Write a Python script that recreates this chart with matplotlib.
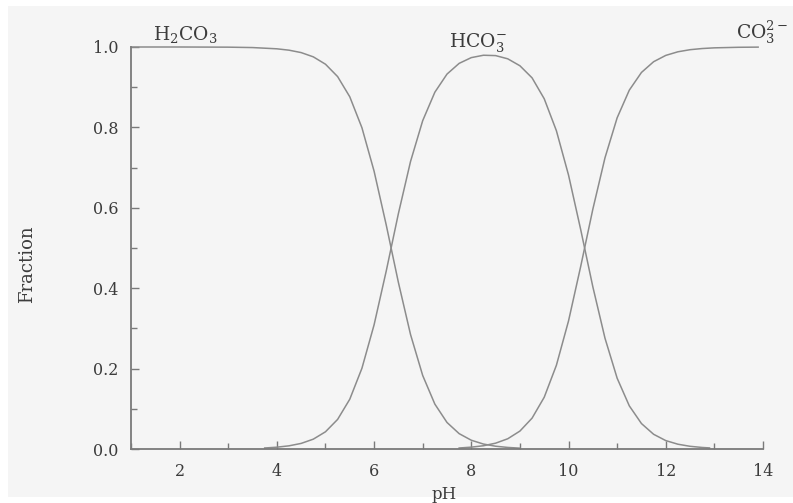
"""Carbonate speciation diagram: fraction of H2CO3, HCO3- and CO3 2- versus pH."""

import matplotlib

matplotlib.use("Agg")

import matplotlib.pyplot as plt
from matplotlib.patches import Rectangle
from matplotlib.ticker import MultipleLocator

plt.rcParams["font.family"] = ["DejaVu Serif"]
plt.rcParams["mathtext.fontset"] = "dejavuserif"

# values
ph_h2co3 = [1.0, 2.0, 3.0, 3.5, 4.0, 4.25, 4.5, 4.75, 5.0, 5.25, 5.5, 5.75,
            6.0, 6.25, 6.5, 6.75, 7.0, 7.25, 7.5, 7.75, 8.0, 8.25, 8.5, 8.75,
            9.0]
frac_h2co3 = [1.0, 1.0, 0.9996, 0.9986, 0.9955, 0.9921, 0.9861, 0.9755,
              0.9572, 0.9264, 0.8762, 0.7992, 0.6912, 0.5573, 0.4145, 0.2847,
              0.1829, 0.1117, 0.0660, 0.0382, 0.0218, 0.0123, 0.0069, 0.0039,
              0.0021]

ph_hco3 = [3.75, 4.0, 4.25, 4.5, 4.75, 5.0, 5.25, 5.5, 5.75, 6.0, 6.25, 6.5,
           6.75, 7.0, 7.25, 7.5, 7.75, 8.0, 8.25, 8.5, 8.75, 9.0, 9.25, 9.5,
           9.75, 10.0, 10.25, 10.5, 10.75, 11.0, 11.25, 11.5, 11.75, 12.0,
           12.25, 12.5, 12.75, 12.9]
frac_hco3 = [0.0025, 0.0045, 0.0079, 0.0139, 0.0245, 0.0428, 0.0736, 0.1238,
             0.2008, 0.3088, 0.4427, 0.5855, 0.7153, 0.8167, 0.8875, 0.9326,
             0.9593, 0.9736, 0.9795, 0.9786, 0.9706, 0.9533, 0.9232, 0.8712,
             0.7918, 0.6813, 0.5459, 0.4034, 0.2755, 0.1761, 0.1073, 0.0633,
             0.0366, 0.0209, 0.0119, 0.0067, 0.0038, 0.0027]

ph_co3 = [7.75, 8.0, 8.25, 8.5, 8.75, 9.0, 9.25, 9.5, 9.75, 10.0, 10.25, 10.5,
          10.75, 11.0, 11.25, 11.5, 11.75, 12.0, 12.25, 12.5, 12.75, 13.0,
          13.5, 13.9]
frac_co3 = [0.0025, 0.0046, 0.0081, 0.0145, 0.0255, 0.0446, 0.0768, 0.1288,
            0.2082, 0.3187, 0.4541, 0.5966, 0.7245, 0.8239, 0.8927, 0.9367,
            0.9634, 0.9791, 0.9881, 0.9933, 0.9962, 0.9979, 0.9993, 0.9997]

species_labels = [r"H$_2$CO$_3$", r"HCO$_3^{-}$", r"CO$_3^{2-}$"]
label_ph = [1.45, 7.55, 13.45]
label_frac = [1.03, 1.012, 1.035]

LINE = "#8c8c8c"
AXIS = "#7a7a7a"
TEXT = "#3c3c3c"

fig = plt.figure(figsize=(7.93, 5.03), dpi=100, facecolor="white")
fig.patches.append(
    Rectangle((8 / 793, 6 / 503), 785 / 793, 491 / 503,
              transform=fig.transFigure, facecolor="#f5f5f5",
              edgecolor="none", zorder=-10)
)

ax = fig.add_axes([131 / 793, 54 / 503, 632 / 793, 402 / 503])
ax.set_facecolor("none")

for ph, frac in [(ph_h2co3, frac_h2co3), (ph_hco3, frac_hco3), (ph_co3, frac_co3)]:
    ax.plot(ph, frac, color=LINE, linewidth=1.1, clip_on=False)

for text, x, y in zip(species_labels, label_ph, label_frac):
    ax.text(x, y, text, ha="left", va="center", fontsize=13.5, color=TEXT,
            clip_on=False)

ax.set_xlim(1, 14)
ax.set_ylim(0, 1)
ax.xaxis.set_major_locator(MultipleLocator(2))
ax.xaxis.set_minor_locator(MultipleLocator(1))
ax.yaxis.set_major_locator(MultipleLocator(0.2))
ax.yaxis.set_minor_locator(MultipleLocator(0.1))
ax.yaxis.set_major_formatter(plt.FuncFormatter(lambda v, _: f"{v:.1f}"))

for side in ["top", "right"]:
    ax.spines[side].set_visible(False)
for side in ["left", "bottom"]:
    ax.spines[side].set_color(AXIS)
    ax.spines[side].set_linewidth(1.3)

ax.tick_params(which="both", direction="in", color=AXIS, width=1.0,
               labelcolor=TEXT, labelsize=11.5)
ax.tick_params(which="major", length=5.5)
ax.tick_params(which="minor", length=4)
ax.tick_params(axis="x", pad=10)
ax.tick_params(axis="y", pad=9)

ax.set_xlabel("pH", fontsize=12, color=TEXT)
ax.xaxis.set_label_coords((444 - 131) / 632, (449 - 486) / 402)
ax.set_ylabel("Fraction", fontsize=13, color=TEXT)
ax.yaxis.set_label_coords((36 - 131) / 632, (449 - 264) / 402)

fig.savefig("out.png", dpi=100, facecolor=fig.get_facecolor())
